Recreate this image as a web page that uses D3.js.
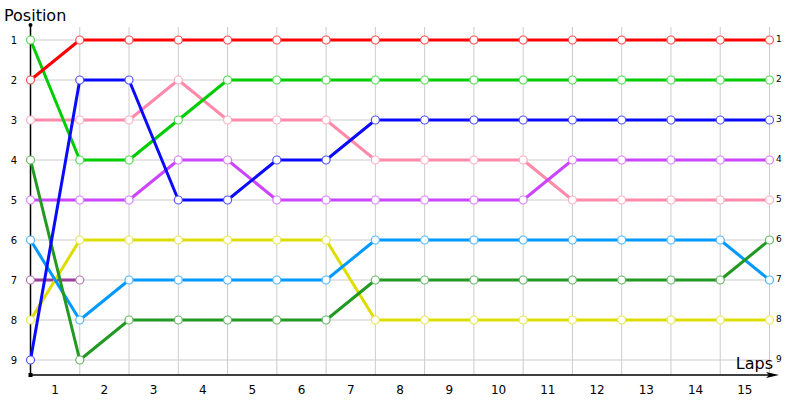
<!DOCTYPE html>
<html>
<head>
<meta charset="utf-8">
<script src="https://cdn.jsdelivr.net/npm/d3@7"></script>
<style>
  body { margin: 0; background: #fff; }
  svg { display: block; font-family: Tahoma, "DejaVu Sans", sans-serif; }
</style>
</head>
<body>
<svg id="chart" width="800" height="400"></svg>
<script>
// ===== DATA =====
const laps = d3.range(0, 16);          // lap 0 = grid, then 1..15
const lapLabels = d3.range(1, 16);     // labels shown between laps
const positions = d3.range(1, 10);

const redPos = [2, 1, 1, 1, 1, 1, 1, 1, 1, 1, 1, 1, 1, 1, 1, 1];
const greenPos = [1, 4, 4, 3, 2, 2, 2, 2, 2, 2, 2, 2, 2, 2, 2, 2];
const bluePos = [9, 2, 2, 5, 5, 4, 4, 3, 3, 3, 3, 3, 3, 3, 3, 3];
const pinkPos = [3, 3, 3, 2, 3, 3, 3, 4, 4, 4, 4, 5, 5, 5, 5, 5];
const purplePos = [5, 5, 5, 4, 4, 5, 5, 5, 5, 5, 5, 4, 4, 4, 4, 4];
const skyPos = [6, 8, 7, 7, 7, 7, 7, 6, 6, 6, 6, 6, 6, 6, 6, 7];
const darkGreenPos = [4, 9, 8, 8, 8, 8, 8, 7, 7, 7, 7, 7, 7, 7, 7, 6];
const yellowPos = [8, 6, 6, 6, 6, 6, 6, 8, 8, 8, 8, 8, 8, 8, 8, 8];
const plumPos = [7, 7];   // retired after lap 1

const series = [
  { color: "#9b3b9b", values: plumPos },
  { color: "#ff8aaa", values: pinkPos },
  { color: "#cc44ff", values: purplePos },
  { color: "#dddd00", values: yellowPos },
  { color: "#0099ff", values: skyPos },
  { color: "#229922", values: darkGreenPos },
  { color: "#00cc00", values: greenPos },
  { color: "#0a0aff", values: bluePos },
  { color: "#ff0000", values: redPos }
];

// ===== SCALES =====
const svg = d3.select("#chart");
const x = d3.scaleLinear().domain([0, 15]).range([30.5, 769.5]);
const y = d3.scaleLinear().domain([1, 9]).range([40, 360]);
const axisY = 375;

// grid
const grid = svg.append("g").attr("stroke", "#cccccc").attr("stroke-width", 1);
grid.selectAll("line.v")
  .data(laps.slice(1))
  .join("line")
  .attr("x1", d => x(d)).attr("x2", d => x(d))
  .attr("y1", 27).attr("y2", axisY);
grid.selectAll("line.h")
  .data(positions)
  .join("line")
  .attr("x1", x(0)).attr("x2", x(15))
  .attr("y1", d => y(d)).attr("y2", d => y(d));

// axes
const axes = svg.append("g").attr("stroke", "#000").attr("stroke-width", 1.5);
axes.append("line").attr("x1", x(0)).attr("x2", x(0)).attr("y1", 25).attr("y2", axisY);
axes.append("line").attr("x1", x(0)).attr("x2", 772).attr("y1", axisY).attr("y2", axisY);
svg.append("path")
  .attr("d", `M779,${axisY} L766,${axisY - 3} L769,${axisY} L766,${axisY + 3} Z`)
  .attr("fill", "#000");
svg.append("circle").attr("cx", x(0)).attr("cy", 25).attr("r", 2).attr("fill", "#000");
svg.append("rect").attr("x", x(0) - 2).attr("y", axisY - 2).attr("width", 4).attr("height", 4).attr("fill", "#000");

// left position labels
svg.append("g").selectAll("text")
  .data(positions)
  .join("text")
  .attr("x", 14).attr("y", d => y(d) + 3.5)
  .attr("text-anchor", "middle")
  .attr("font-size", 10)
  .attr("fill", "#000")
  .text(d => d);

// right position labels
svg.append("g").selectAll("text")
  .data(positions)
  .join("text")
  .attr("x", 776).attr("y", d => y(d) + 2)
  .attr("font-size", 9)
  .attr("fill", "#000")
  .text(d => d);

// lap labels between gridlines
svg.append("g").selectAll("text")
  .data(lapLabels)
  .join("text")
  .attr("x", d => (x(d - 1) + x(d)) / 2)
  .attr("y", 394)
  .attr("text-anchor", "middle")
  .attr("font-size", 12)
  .attr("fill", "#000")
  .text(d => d);

// axis titles
svg.append("text").attr("x", 4).attr("y", 21)
  .attr("font-size", 16).attr("fill", "#000").text("Position");
svg.append("text").attr("x", 773).attr("y", 369)
  .attr("text-anchor", "end")
  .attr("font-size", 16).attr("fill", "#000").text("Laps");

// ===== LINES =====
const line = d3.line()
  .x((d, i) => x(i))
  .y(d => y(d));

const linesG = svg.append("g");
series.forEach(s => {
  linesG.append("path")
    .datum(s.values)
    .attr("d", line)
    .attr("fill", "none")
    .attr("stroke", s.color)
    .attr("stroke-width", 3)
    .attr("stroke-linejoin", "round");
});

// markers on top
series.forEach(s => {
  const light = d3.interpolateRgb(s.color, "#ffffff")(0.3);
  linesG.append("g").selectAll("circle")
    .data(s.values)
    .join("circle")
    .attr("cx", (d, i) => x(i))
    .attr("cy", d => y(d))
    .attr("r", 4)
    .attr("fill", "#fff")
    .attr("stroke", light)
    .attr("stroke-width", 1.2);
});
</script>
</body>
</html>
